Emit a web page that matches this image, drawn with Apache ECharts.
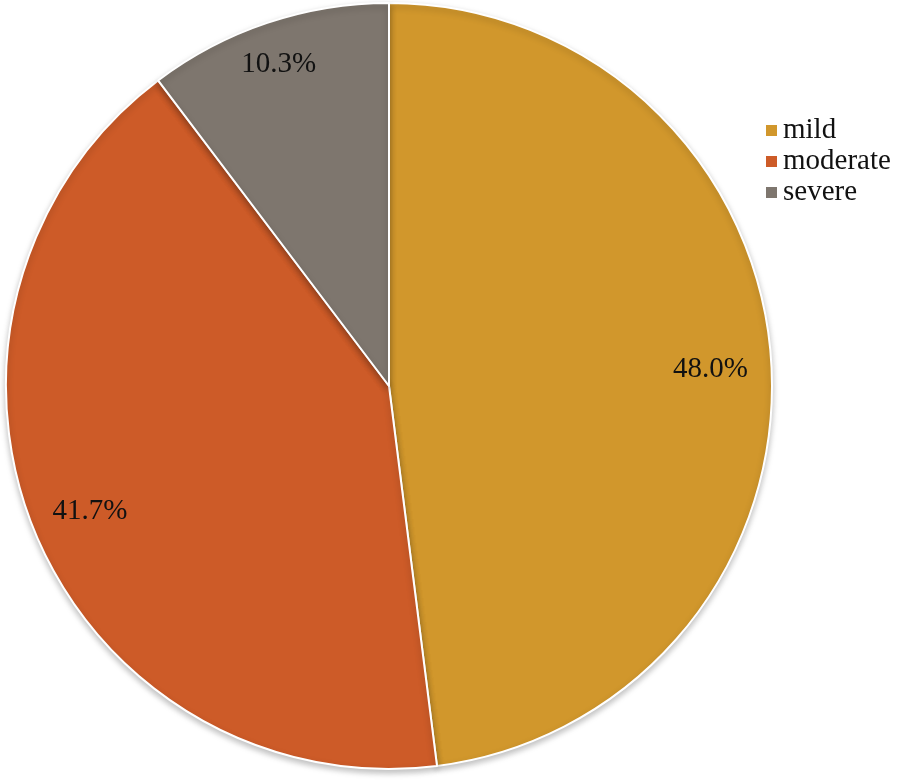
<!DOCTYPE html>
<html>
<head>
<meta charset="utf-8">
<script src="https://cdn.jsdelivr.net/npm/echarts@6/dist/echarts.min.js"></script>
<style>
  html, body { margin: 0; padding: 0; background: #fff; }
  #chart { width: 898px; height: 782px; }
</style>
</head>
<body>
<div id="chart"></div>
<script>
const categories = ['mild', 'moderate', 'severe'];
const shares = [48.0, 41.7, 10.3];
const colors = ['#D1972C', '#CD5B28', '#7E766E'];

const chart = echarts.init(document.getElementById('chart'));

const sliceData = categories.map((name, i) => ({
  name: name,
  value: shares[i],
  itemStyle: { color: colors[i] }
}));

// the small slice's label sits a bit further out in the original
const labelOffsets = [[-3, 4], [2, 3], [-7, -13]];

chart.setOption({
  animation: false,
  legend: {
    data: categories,
    orient: 'vertical',
    left: 759,
    top: 111,
    icon: 'rect',
    itemWidth: 13,
    itemHeight: 13,
    itemGap: 2,
    textStyle: {
      fontFamily: "'Liberation Serif', 'Times New Roman', serif",
      fontSize: 29,
      color: '#111'
    }
  },
  series: [
    {
      type: 'pie',
      center: [389, 386],
      radius: [0, 383],
      startAngle: 90,
      clockwise: true,
      silent: true,
      itemStyle: {
        borderColor: '#fff',
        borderWidth: 2,
        shadowColor: 'rgba(0,0,0,0.25)',
        shadowBlur: 6,
        shadowOffsetY: 3
      },
      label: { show: false },
      labelLine: { show: false },
      data: sliceData
    },
    {
      // transparent ring used only to place the percentage labels
      type: 'pie',
      center: [389, 386],
      radius: [0, 644],
      startAngle: 90,
      clockwise: true,
      silent: true,
      itemStyle: { color: 'rgba(0,0,0,0)', borderWidth: 0 },
      label: {
        show: true,
        position: 'inside',
        fontFamily: "'Liberation Serif', 'Times New Roman', serif",
        fontSize: 29,
        color: '#111',
        formatter: p => p.value.toFixed(1) + '%'
      },
      labelLine: { show: false },
      data: categories.map((name, i) => ({
        name: name,
        value: shares[i],
        label: { offset: labelOffsets[i] }
      }))
    }
  ]
});
</script>
</body>
</html>
